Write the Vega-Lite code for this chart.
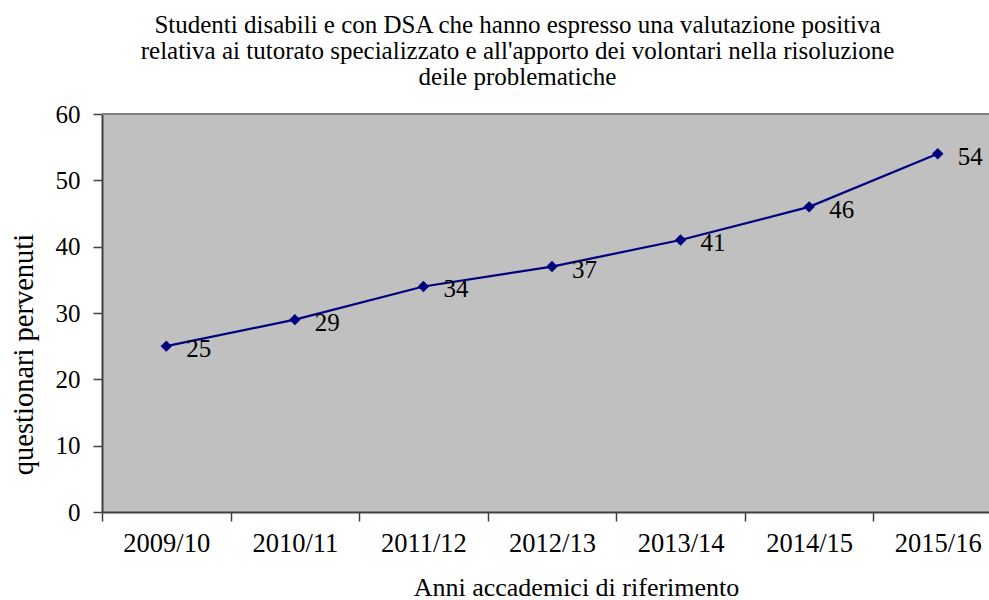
{
  "$schema": "https://vega.github.io/schema/vega-lite/v6.json",
  "autosize": {"type": "none"},
  "width": 887,
  "height": 398,
  "padding": {"left": 102, "top": 114, "right": 0, "bottom": 88},
  "background": "white",
  "title": {
    "text": ["Studenti disabili e con DSA che hanno espresso una valutazione positiva", "relativa ai tutorato specializzato e all'apporto dei volontari nella risoluzione", "deile problematiche"],
    "font": "Liberation Serif",
    "fontSize": 25,
    "fontWeight": "normal",
    "color": "black",
    "anchor": "middle",
    "lineHeight": 26,
    "baseline": "bottom",
    "offset": -13,
    "dx": -28
  },
  "config": {
    "view": {"fill": "#c0c0c0", "stroke": null},
    "font": "Liberation Serif"
  },
  "data": {
    "values": [
      {"anno": "2009/10", "valore": 25},
      {"anno": "2010/11", "valore": 29},
      {"anno": "2011/12", "valore": 34},
      {"anno": "2012/13", "valore": 37},
      {"anno": "2013/14", "valore": 41},
      {"anno": "2014/15", "valore": 46},
      {"anno": "2015/16", "valore": 54}
    ]
  },
  "encoding": {
    "x": {
      "field": "anno",
      "type": "ordinal",
      "sort": null,
      "scale": {"type": "band", "range": [0, 900], "paddingInner": 0, "paddingOuter": 0},
      "axis": {
        "title": "Anni accademici di riferimento",
        "titleFont": "Liberation Serif",
        "titleFontSize": 26,
        "titleFontWeight": "normal",
        "titleColor": "black",
        "titleX": 474,
        "titleY": 75,
        "titleAlign": "center",
        "titleBaseline": "middle",
        "labelAngle": 0,
        "labelFont": "Liberation Serif",
        "labelFontSize": 26.5,
        "labelColor": "black",
        "labelPadding": 9,
        "tickBand": "extent",
        "tickSize": 9,
        "tickColor": "#404040",
        "tickWidth": 1.5,
        "domainColor": "#404040",
        "domainWidth": 2,
        "grid": false
      }
    },
    "y": {
      "field": "valore",
      "type": "quantitative",
      "scale": {"domain": [0, 60], "nice": false, "zero": true},
      "axis": {
        "title": "questionari pervenuti",
        "titleFont": "Liberation Serif",
        "titleFontSize": 28.5,
        "titleFontWeight": "normal",
        "titleColor": "black",
        "titleX": -79,
        "titleY": 240,
        "titleAlign": "center",
        "titleBaseline": "middle",
        "titleAngle": -90,
        "values": [0, 10, 20, 30, 40, 50, 60],
        "labelFont": "Liberation Serif",
        "labelFontSize": 25,
        "labelColor": "black",
        "labelPadding": 13,
        "tickSize": 9,
        "tickColor": "#404040",
        "tickWidth": 1.5,
        "domainColor": "#404040",
        "domainWidth": 2,
        "grid": false
      }
    }
  },
  "layer": [
    {
      "mark": {"type": "rule", "color": "#808080", "strokeWidth": 2},
      "encoding": {"y": {"datum": 60}, "x": null}
    },
    {
      "mark": {"type": "line", "color": "#000080", "strokeWidth": 2.2}
    },
    {
      "mark": {"type": "point", "shape": "diamond", "filled": true, "color": "#000080", "size": 130, "opacity": 1}
    },
    {
      "mark": {"type": "text", "align": "left", "baseline": "middle", "dx": 20, "dy": 3, "font": "Liberation Serif", "fontSize": 25, "color": "black"},
      "encoding": {"text": {"field": "valore", "type": "quantitative"}}
    }
  ]
}
